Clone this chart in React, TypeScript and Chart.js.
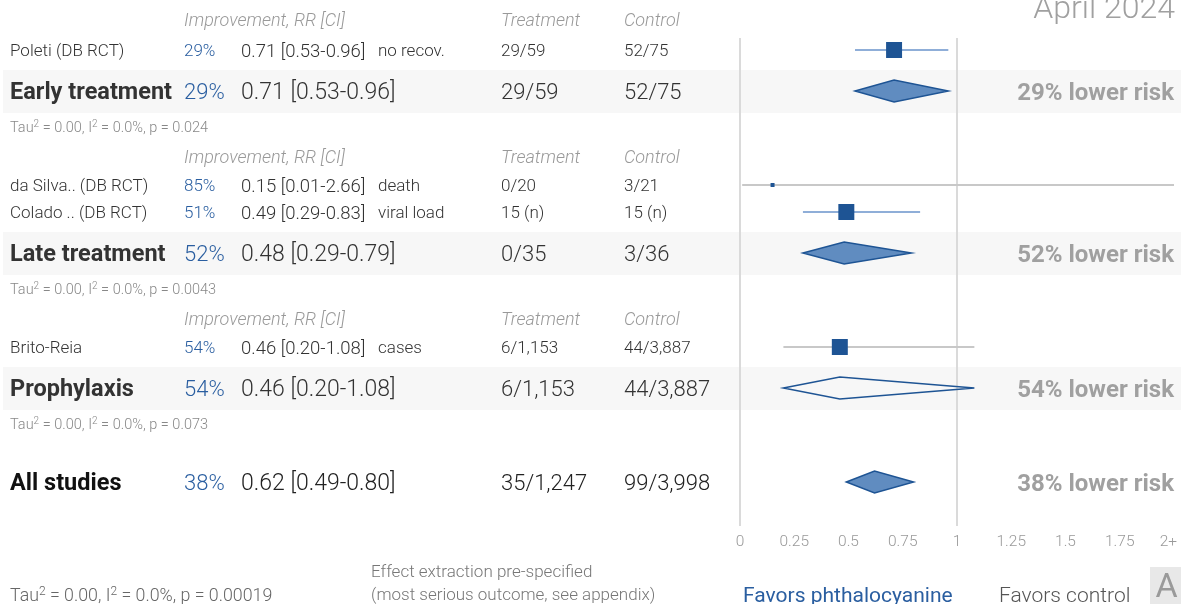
import React, { useEffect, useRef } from 'react';
import { Chart, registerables } from 'chart.js';
Chart.register(...registerables);

// ---------- data ----------
const studyNames = ['Poleti (DB RCT)', 'da Silva.. (DB RCT)', 'Colado .. (DB RCT)', 'Brito-Reia'];
const studyGroup = [0, 1, 1, 2];
const studyImprovement = ['29%', '85%', '51%', '54%'];
const studyRR = [0.71, 0.15, 0.49, 0.46];
const studyLo = [0.53, 0.01, 0.29, 0.2];
const studyHi = [0.96, 2.66, 0.83, 1.08];
const studyRRText = ['0.71 [0.53-0.96]', '0.15 [0.01-2.66]', '0.49 [0.29-0.83]', '0.46 [0.20-1.08]'];
const studyOutcome = ['no recov.', 'death', 'viral load', 'cases'];
const studyTreatment = ['29/59', '0/20', '15 (n)', '6/1,153'];
const studyControl = ['52/75', '3/21', '15 (n)', '44/3,887'];
const studyWeight = [1, 0.25, 1, 1];

const groupNames = ['Early treatment', 'Late treatment', 'Prophylaxis'];
const groupImprovement = ['29%', '52%', '54%'];
const groupRR = [0.71, 0.48, 0.46];
const groupLo = [0.53, 0.29, 0.2];
const groupHi = [0.96, 0.79, 1.08];
const groupRRText = ['0.71 [0.53-0.96]', '0.48 [0.29-0.79]', '0.46 [0.20-1.08]'];
const groupTreatment = ['29/59', '0/35', '6/1,153'];
const groupControl = ['52/75', '3/36', '44/3,887'];
const groupP = ['0.024', '0.0043', '0.073'];
const groupRisk = ['29% lower risk', '52% lower risk', '54% lower risk'];

const allName = 'All studies';
const allImprovement = '38%';
const allRR = 0.62;
const allLo = 0.49;
const allHi = 0.8;
const allRRText = '0.62 [0.49-0.80]';
const allTreatment = '35/1,247';
const allControl = '99/3,998';
const allP = '0.00019';
const allRisk = '38% lower risk';

const xTicks = [0, 0.25, 0.5, 0.75, 1, 1.25, 1.5, 1.75, 2];
const xTickLabels = ['0', '0.25', '0.5', '0.75', '1', '1.25', '1.5', '1.75', '2+'];

// ---------- styles ----------
const FONT = 'Roboto, "Noto Sans", sans-serif';
const BLUE = 'rgb(42,94,160)';
const DARK = '#333';
const GREY = '#999';
const SQUARE = 'rgb(30,84,148)';
const DIAMOND_FILL = 'rgb(96,140,192)';
const CI_BLUE = 'rgb(143,174,216)';
const CI_GREY = 'rgb(200,200,200)';
const HEADER_GAP = [30, 28, 28];

function buildLayout() {
  const studyY: number[] = [];
  const groupY: number[] = [];
  const headerY: number[] = [];
  const tauY: number[] = [];
  let y = 20;
  groupNames.forEach((_, g) => {
    if (g > 0) y += 30;
    headerY.push(y);
    let first = true;
    studyGroup.forEach((sg, i) => {
      if (sg !== g) return;
      y += first ? HEADER_GAP[g] : 27;
      first = false;
      studyY[i] = y;
    });
    y += 41;
    groupY.push(y);
    y += 36;
    tauY.push(y);
  });
  const allY = y + 58;
  const axisY = allY + 58;
  return { studyY, groupY, headerY, tauY, allY, axisY };
}
const L = buildLayout();

// draws text with its cap height centred on y
function txt(ctx: CanvasRenderingContext2D, s: string, x: number, y: number, size: number, style: string, color: string, align: CanvasTextAlign = 'left') {
  ctx.font = `${style} ${size}px ${FONT}`;
  ctx.fillStyle = color;
  ctx.textAlign = align;
  ctx.textBaseline = 'alphabetic';
  ctx.fillText(s, x, y + size * 0.355);
}

function tau(ctx: CanvasRenderingContext2D, p: string, x: number, y: number, size: number, color: string) {
  const segs: [string, boolean][] = [['Tau', false], ['2', true], [' = 0.00, I', false], ['2', true], [' = 0.0%, p = ' + p, false]];
  ctx.fillStyle = color;
  ctx.textAlign = 'left';
  ctx.textBaseline = 'alphabetic';
  const base = y + size * 0.355;
  let cx = x;
  segs.forEach(([s, sup]) => {
    const sz = sup ? Math.round(size * 0.7) : size;
    ctx.font = `300 ${sz}px ${FONT}`;
    ctx.fillText(s, cx, sup ? base - size * 0.38 : base);
    cx += ctx.measureText(s).width;
  });
}

const forestPlugin = {
  id: 'forest',
  beforeDraw(chart: any) {
    const ctx = chart.ctx as CanvasRenderingContext2D;
    const ys = chart.scales.y;
    ctx.save();
    ctx.fillStyle = '#f7f7f7';
    L.groupY.forEach((gy) => {
      const top = ys.getPixelForValue(gy - 21);
      const bot = ys.getPixelForValue(gy + 22);
      ctx.fillRect(3, top, chart.width - 3, bot - top);
    });
    ctx.restore();
  },
  beforeDatasetsDraw(chart: any) {
    const ctx = chart.ctx as CanvasRenderingContext2D;
    const xs = chart.scales.x;
    const ys = chart.scales.y;
    ctx.save();
    ctx.strokeStyle = '#dadada';
    ctx.lineWidth = 2;
    const top = ys.getPixelForValue(L.studyY[0] - 12);
    const bot = ys.getPixelForValue(L.allY + 44);
    [0, 1].forEach((v) => {
      const px = Math.round(xs.getPixelForValue(v));
      ctx.beginPath();
      ctx.moveTo(px, top);
      ctx.lineTo(px, bot);
      ctx.stroke();
    });
    ctx.restore();
  },
  afterDatasetsDraw(chart: any) {
    const ctx = chart.ctx as CanvasRenderingContext2D;
    const xs = chart.scales.x;
    const ys = chart.scales.y;
    const diamond = (est: number, lo: number, hi: number, yv: number, filled: boolean) => {
      const cy = ys.getPixelForValue(yv);
      ctx.beginPath();
      ctx.moveTo(xs.getPixelForValue(lo), cy);
      ctx.lineTo(xs.getPixelForValue(est), cy - 11);
      ctx.lineTo(xs.getPixelForValue(hi), cy);
      ctx.lineTo(xs.getPixelForValue(est), cy + 11);
      ctx.closePath();
      if (filled) {
        ctx.fillStyle = DIAMOND_FILL;
        ctx.fill();
      }
      ctx.strokeStyle = SQUARE;
      ctx.lineWidth = 1.5;
      ctx.stroke();
    };
    ctx.save();
    groupNames.forEach((_, g) => diamond(groupRR[g], groupLo[g], groupHi[g], L.groupY[g], groupHi[g] < 1));
    diamond(allRR, allLo, allHi, L.allY, allHi < 1);
    ctx.restore();
  },
  afterDraw(chart: any) {
    const ctx = chart.ctx as CanvasRenderingContext2D;
    const xs = chart.scales.x;
    const ys = chart.scales.y;
    const right = chart.chartArea.right;
    const Y = (v: number) => ys.getPixelForValue(v);
    ctx.save();
    ctx.font = `300 32px ${FONT}`;
    ctx.fillStyle = '#a0a0a0';
    ctx.textAlign = 'right';
    ctx.textBaseline = 'alphabetic';
    ctx.fillText('April 2024', right + 1, 18);
    groupNames.forEach((name, g) => {
      const hy = Y(L.headerY[g]);
      txt(ctx, 'Improvement, RR [CI]', 184, hy, 18, 'italic 300', GREY);
      txt(ctx, 'Treatment', 501, hy, 18, 'italic 300', GREY);
      txt(ctx, 'Control', 624, hy, 18, 'italic 300', GREY);
      studyGroup.forEach((sg, i) => {
        if (sg !== g) return;
        const sy = Y(L.studyY[i]);
        txt(ctx, studyNames[i], 10, sy, 17, '300', DARK);
        txt(ctx, studyImprovement[i], 184, sy, 17, '300', BLUE);
        txt(ctx, studyRRText[i], 241, sy, 18.5, '300', DARK);
        txt(ctx, studyOutcome[i], 378, sy, 17, '300', DARK);
        txt(ctx, studyTreatment[i], 501, sy, 17, '300', DARK);
        txt(ctx, studyControl[i], 624, sy, 17, '300', DARK);
      });
      const gy = Y(L.groupY[g]);
      txt(ctx, name, 10, gy, 23.5, 'bold', DARK);
      txt(ctx, groupImprovement[g], 184, gy, 22, '300', BLUE);
      txt(ctx, groupRRText[g], 241, gy, 23, '300', DARK);
      txt(ctx, groupTreatment[g], 501, gy, 22, '300', DARK);
      txt(ctx, groupControl[g], 624, gy, 22, '300', DARK);
      txt(ctx, groupRisk[g], right, gy, 24, 'bold', '#a0a0a0', 'right');
      tau(ctx, groupP[g], 10, Y(L.tauY[g]), 14.5, '#888');
    });
    const ay = Y(L.allY);
    txt(ctx, allName, 10, ay, 23.5, 'bold', '#111');
    txt(ctx, allImprovement, 184, ay, 22, '300', BLUE);
    txt(ctx, allRRText, 241, ay, 23, '300', '#222');
    txt(ctx, allTreatment, 501, ay, 22, '300', '#222');
    txt(ctx, allControl, 624, ay, 22, '300', '#222');
    txt(ctx, allRisk, right, ay, 24, 'bold', '#a0a0a0', 'right');
    const ty = Y(L.axisY);
    xTicks.forEach((v, i) => {
      const last = i === xTicks.length - 1;
      txt(ctx, xTickLabels[i], last ? xs.getPixelForValue(v) + 3 : xs.getPixelForValue(v), ty, 15.5, '300', '#999', last ? 'right' : 'center');
    });
    tau(ctx, allP, 10, 595, 17.8, '#666');
    txt(ctx, 'Effect extraction pre-specified', 371, 571, 17, '300', '#777');
    txt(ctx, '(most serious outcome, see appendix)', 371, 594, 17, '300', '#777');
    txt(ctx, 'Favors phthalocyanine', 743, 595, 21, 'normal', BLUE);
    txt(ctx, 'Favors control', 999, 595, 21, '300', '#555');
    ctx.fillStyle = '#e8e8e8';
    ctx.fillRect(1150, 567, 31, 37);
    txt(ctx, 'A', 1166.5, 585, 34, 'normal', '#9a9a9a', 'center');
    ctx.restore();
  },
};

export default function App() {
  const ref = useRef<HTMLCanvasElement>(null);
  useEffect(() => {
    if (!ref.current) return;
    const squares = studyNames.map((_, i) => ({ x: studyRR[i], y: L.studyY[i] }));
    const ciSets = studyNames.map((_, i) => ({
      type: 'line' as const,
      data: [
        { x: studyLo[i], y: L.studyY[i] },
        { x: studyHi[i], y: L.studyY[i] },
      ],
      borderColor: studyLo[i] < 1 && studyHi[i] < 1 ? CI_BLUE : CI_GREY,
      borderWidth: 2,
      pointRadius: 0,
      showLine: true,
      order: 2,
    }));
    const chart = new Chart(ref.current, {
      type: 'scatter',
      data: {
        datasets: [
          {
            data: squares,
            pointStyle: 'rect',
            pointRadius: studyWeight.map((w) => w * 11.3),
            backgroundColor: SQUARE,
            borderWidth: 0,
            order: 0,
          } as any,
          ...ciSets,
        ],
      },
      options: {
        responsive: false,
        animation: false,
        events: [],
        devicePixelRatio: 1,
        layout: { autoPadding: false, padding: { left: 740, right: 7, top: 0, bottom: 0 } },
        scales: {
          x: { type: 'linear', min: 0, max: 2, display: false },
          y: { type: 'linear', min: 0, max: 604, reverse: true, display: false },
        },
        plugins: { legend: { display: false }, tooltip: { enabled: false } },
      },
      plugins: [forestPlugin],
    });
    return () => chart.destroy();
  }, []);
  return (
    <div style={{ position: 'fixed', left: 0, top: 0, width: 1181, height: 604, background: '#fff' }}>
      <canvas ref={ref} width={1181} height={604} />
    </div>
  );
}
